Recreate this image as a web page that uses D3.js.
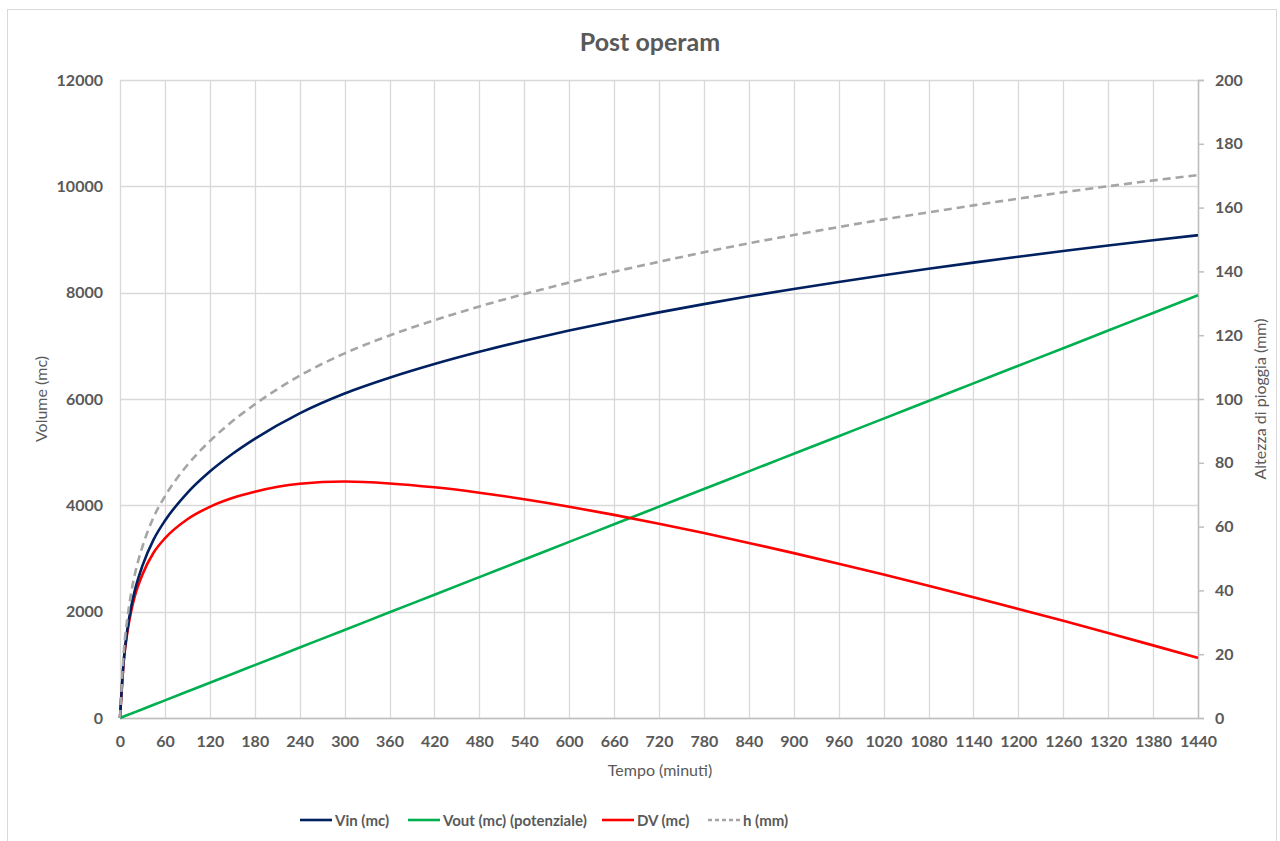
<!DOCTYPE html>
<html>
<head>
<meta charset="utf-8">
<script src="https://cdn.jsdelivr.net/npm/d3@7/dist/d3.min.js"></script>
<style>
  html, body { margin: 0; padding: 0; background: #fff; }
  svg { display: block; }
</style>
</head>
<body>
<svg id="chart" width="1280" height="841"></svg>
<script>
// ---- data ----
const times = [0,5,10,15,20,30,45,60,90,120,150,180,240,300,360,420,480,540,600,660,720,780,840,900,960,1020,1080,1140,1200,1260,1320,1380,1440];
const vin   = [0,1090,1680,2095,2410,2865,3360,3710,4235,4635,4965,5250,5730,6103,6400,6658,6888,7096,7288,7464,7629,7784,7931,8070,8202,8328,8449,8565,8676,8783,8886,8985,9080];
const vout  = [0,28,55,83,110,166,248,331,497,663,828,994,1325,1656,1988,2319,2650,2981,3313,3644,3975,4306,4638,4969,5300,5631,5963,6294,6625,6956,7288,7619,7950];
const dv    = [0,1062,1625,2012,2300,2699,3112,3379,3738,3972,4137,4256,4405,4447,4412,4339,4238,4115,3975,3820,3654,3478,3293,3101,2902,2697,2486,2271,2051,1827,1598,1366,1130];
const hmm   = [0,20.5,31.5,39.3,45.2,53.7,63.0,69.5,79.3,86.8,93.0,98.3,107.3,114.3,119.9,124.7,129.0,132.9,136.5,139.9,143.0,146.0,148.8,151.4,153.9,156.3,158.5,160.7,162.8,164.8,166.7,168.5,170.2];

const xTicks = d3.range(0, 1441, 60);
const yLeftTicks = [0,2000,4000,6000,8000,10000,12000];
const yRightTicks = [0,20,40,60,80,100,120,140,160,180,200];

const title = "Post operam";
const xTitle = "Tempo (minuti)";
const yLeftTitle = "Volume (mc)";
const yRightTitle = "Altezza di pioggia (mm)";

const seriesNames = ["Vin (mc)", "Vout (mc) (potenziale)", "DV (mc)", "h (mm)"];
const seriesColors = ["#002060", "#00B050", "#FF0000", "#A5A5A5"];

// ---- layout ----
const svg = d3.select("#chart");
const plot = { left: 120, right: 1198, top: 80, bottom: 718 };
const textColor = "#595959";
const FONT = "Lato, 'Open Sans', sans-serif";

const x = d3.scaleLinear().domain([0, 1440]).range([plot.left, plot.right]);
const yL = d3.scaleLinear().domain([0, 12000]).range([plot.bottom, plot.top]);
const yR = d3.scaleLinear().domain([0, 200]).range([plot.bottom, plot.top]);

// chart area border
svg.append("rect").attr("x", 7.5).attr("y", 9.5).attr("width", 1269).attr("height", 900)
  .attr("fill", "#fff").attr("stroke", "#d9d9d9").attr("stroke-width", 1);

// gridlines
const grid = svg.append("g");
grid.selectAll("line.h").data(yLeftTicks).join("line")
  .attr("x1", plot.left).attr("x2", plot.right)
  .attr("y1", d => Math.round(yL(d)) + 0.5).attr("y2", d => Math.round(yL(d)) + 0.5)
  .attr("stroke", "#d9d9d9").attr("stroke-width", 1.3);
grid.selectAll("line.v").data(xTicks).join("line")
  .attr("x1", d => Math.round(x(d)) + 0.5).attr("x2", d => Math.round(x(d)) + 0.5)
  .attr("y1", plot.top).attr("y2", plot.bottom)
  .attr("stroke", "#d9d9d9").attr("stroke-width", 1.3);

// x axis line
svg.append("line").attr("x1", plot.left).attr("x2", plot.right)
  .attr("y1", plot.bottom + 0.5).attr("y2", plot.bottom + 0.5)
  .attr("stroke", "#bfbfbf").attr("stroke-width", 1.5);

// x axis
const xAxis = svg.append("g").attr("transform", `translate(0,${plot.bottom})`)
  .call(d3.axisBottom(x).tickValues(xTicks).tickSize(0).tickPadding(18).tickFormat(d3.format("d")));
xAxis.select(".domain").remove();
xAxis.selectAll("text").attr("font-family", FONT).attr("font-size", 16).attr("font-weight", 700)
  .attr("fill", textColor);

// left axis
const yAxisL = svg.append("g").attr("transform", `translate(${plot.left},0)`)
  .call(d3.axisLeft(yL).tickValues(yLeftTicks).tickSize(0).tickPadding(17).tickFormat(d3.format("d")));
yAxisL.select(".domain").remove();
yAxisL.selectAll("text").attr("font-family", FONT).attr("font-size", 16).attr("font-weight", 700)
  .attr("fill", textColor);

// right axis
const yAxisR = svg.append("g").attr("transform", `translate(${plot.right},0)`)
  .call(d3.axisRight(yR).tickValues(yRightTicks).tickSize(6).tickPadding(11).tickFormat(d3.format("d")));
yAxisR.select(".domain").attr("stroke", "#bfbfbf").attr("stroke-width", 1.5);
yAxisR.selectAll(".tick line").attr("stroke", "#bfbfbf").attr("stroke-width", 1.5);
yAxisR.selectAll("text").attr("font-family", FONT).attr("font-size", 16).attr("font-weight", 700)
  .attr("fill", textColor);

// titles
svg.append("text").attr("x", 650).attr("y", 51).attr("text-anchor", "middle")
  .attr("font-family", FONT).attr("font-size", 25).attr("font-weight", 700).attr("fill", textColor)
  .text(title);
svg.append("text").attr("x", 660).attr("y", 776).attr("text-anchor", "middle")
  .attr("font-family", FONT).attr("font-size", 16).attr("fill", textColor).text(xTitle);
svg.append("text").attr("transform", "translate(47,399) rotate(-90)").attr("text-anchor", "middle")
  .attr("font-family", FONT).attr("font-size", 16).attr("fill", textColor).text(yLeftTitle);
svg.append("text").attr("transform", "translate(1266,399) rotate(-90)").attr("text-anchor", "middle")
  .attr("font-family", FONT).attr("font-size", 16).attr("fill", textColor).text(yRightTitle);

// series
svg.append("clipPath").attr("id", "clip").append("rect")
  .attr("x", plot.left - 2).attr("y", plot.top - 2).attr("width", plot.right - plot.left + 4).attr("height", plot.bottom - plot.top + 4);
const lines = svg.append("g").attr("clip-path", "url(#clip)");

function drawLine(vals, yScale, color, dash) {
  const data = times.map((t, i) => [t, vals[i]]);
  lines.append("path").datum(data)
    .attr("fill", "none").attr("stroke", color).attr("stroke-width", 2.6)
    .attr("stroke-dasharray", dash || null)
    .attr("stroke-linejoin", "round")
    .attr("d", d3.line().x(d => x(d[0])).y(d => yScale(d[1])).curve(d3.curveMonotoneX));
}
drawLine(vout, yL, seriesColors[1]);
drawLine(dv, yL, seriesColors[2]);
drawLine(vin, yL, seriesColors[0]);
drawLine(hmm, yR, seriesColors[3], "8,5");

// legend
const legendItems = [
  { name: seriesNames[0], color: seriesColors[0], x: 300 },
  { name: seriesNames[1], color: seriesColors[1], x: 408 },
  { name: seriesNames[2], color: seriesColors[2], x: 602 },
  { name: seriesNames[3], color: seriesColors[3], x: 708, dash: "4,3" }
];
const lg = svg.append("g");
legendItems.forEach(it => {
  lg.append("line").attr("x1", it.x).attr("x2", it.x + 32).attr("y1", 820).attr("y2", 820)
    .attr("stroke", it.color).attr("stroke-width", 2.6).attr("stroke-dasharray", it.dash || null);
  lg.append("text").attr("x", it.x + 35).attr("y", 826)
    .attr("font-family", FONT).attr("font-size", 15).attr("font-weight", 700).attr("fill", textColor)
    .text(it.name);
});
</script>
</body>
</html>
